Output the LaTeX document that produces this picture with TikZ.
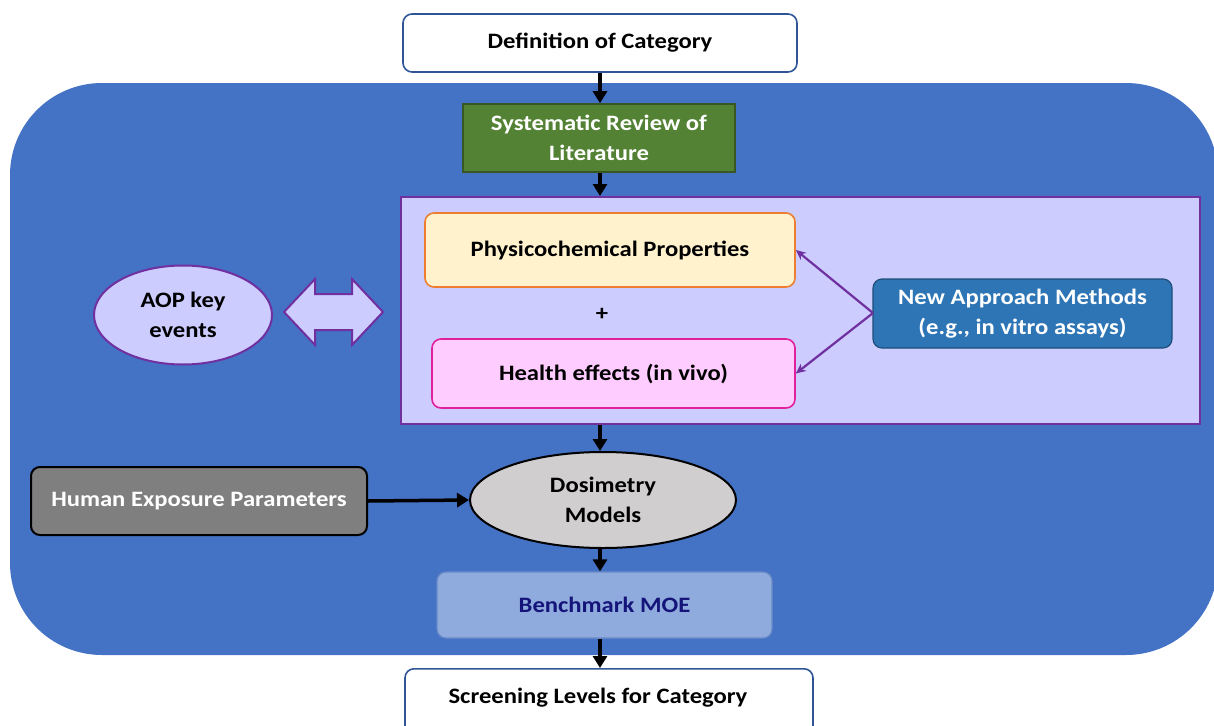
\documentclass[tikz,border=0pt]{standalone}
\usepackage{fontspec}
\setmainfont[FakeStretch=1.12]{Carlito}
\usetikzlibrary{arrows.meta,shapes.geometric}
\definecolor{bigblue}{HTML}{4472C4}
\definecolor{lav}{HTML}{CCCCFF}
\definecolor{purp}{HTML}{7030A0}
\definecolor{grn}{HTML}{548235}
\definecolor{grnd}{HTML}{385723}
\definecolor{boxblue}{HTML}{2F5597}
\definecolor{peach}{HTML}{FFF2CC}
\definecolor{orng}{HTML}{ED7D31}
\definecolor{pinkf}{HTML}{FFCCFF}
\definecolor{mag}{HTML}{E0209C}
\definecolor{nam}{HTML}{2E75B6}
\definecolor{namd}{HTML}{1F4E79}
\definecolor{grayf}{HTML}{7F7F7F}
\definecolor{dosf}{HTML}{D0CECE}
\definecolor{bmf}{HTML}{8FAADC}
\definecolor{bmd}{HTML}{6A8AC8}
\definecolor{navy}{HTML}{14147A}
\tikzset{
  txt/.style={font=\fontsize{22}{29.5}\selectfont\bfseries, align=center},
  box/.style={txt, draw, rounded corners=9pt, line width=1.6pt, inner sep=0pt},
  flow/.style={line width=3.5pt, -{Triangle[length=12pt,width=14pt]}},
  parr/.style={line width=2.2pt, draw=purp, -{Stealth[length=10pt,width=9pt]}},
}
\begin{document}
\begin{tikzpicture}[x=1pt,y=-1pt]
\useasboundingbox (0,0) rectangle (1214,725);
% big blue background
\fill[bigblue, rounded corners=92pt] (10,83) rectangle (1218,655);
% top box
\node[box, draw=boxblue, fill=white, minimum width=394pt, minimum height=58pt] (def) at (600,43) {Definition of Category};
% systematic review
\node[txt, draw=grnd, fill=grn, text=white, line width=1.6pt, minimum width=272pt, minimum height=68pt, inner sep=0pt] (sys) at (599,138) {Systematic Review of\\Literature};
% lavender container
\node[draw=purp, fill=lav, line width=2pt, minimum width=799pt, minimum height=227pt, inner sep=0pt] (cont) at (800.5,310.5) {};
% physchem
\node[box, draw=orng, fill=peach, minimum width=370pt, minimum height=74pt] (phys) at (610,250) {Physicochemical Properties};
\node[txt] (plus) at (602,314) {+};
% health
\node[box, draw=mag, fill=pinkf, minimum width=363pt, minimum height=69pt] (health) at (613.5,373.5) {Health effects (in vivo)};
% NAM
\node[box, draw=namd, fill=nam, text=white, minimum width=299pt, minimum height=69pt, line width=1.2pt] (nam) at (1022.5,313.5) {New Approach Methods\\(e.g., in vitro assays)};
\coordinate (namw) at (873,313);
\draw[parr] (namw) -- (phys.east);
\draw[parr] (namw) -- (health.east);
% AOP
\node[txt, ellipse, draw=purp, fill=lav, line width=2pt, minimum width=178pt, minimum height=99pt, inner sep=0pt] (aop) at (183,315) {AOP key\\events};
% double arrow
\draw[draw=purp, fill=lav, line width=2pt, line join=miter]
  (284,312) -- (315,279) -- (315,294) -- (352,294) -- (352,279) -- (383,312)
  -- (352,345) -- (352,330) -- (315,330) -- (315,345) -- cycle;
% dosimetry
\node[txt, ellipse, draw=black, fill=dosf, line width=2pt, minimum width=266pt, minimum height=96pt, inner sep=0pt] (dos) at (603,500) {Dosimetry\\Models};
% human exposure
\node[box, draw=black, fill=grayf, text=white, minimum width=336pt, minimum height=68pt, line width=2pt] (hum) at (199,501) {Human Exposure Parameters};
% benchmark
\node[box, draw=bmd, fill=bmf, text=navy, minimum width=335pt, minimum height=66pt, line width=1.2pt] (bm) at (604.5,605) {Benchmark MOE};
% screening
\node[box, draw=boxblue, fill=white, minimum width=408pt, minimum height=66pt, anchor=north] (scr) at (609,668) {};
\node[txt] (scrt) at (598,698) {Screening Levels for Category};
% flow arrows
\draw[flow] (def.south -| 600,0) -- (sys.north -| 600,0);
\draw[flow] (sys.south -| 600,0) -- (cont.north -| 600,0);
\draw[flow] (cont.south -| 600,0) -- (dos.north -| 600,0);
\draw[flow] (hum.east) -- (dos.west);
\draw[flow] (dos.south -| 600,0) -- (bm.north -| 600,0);
\draw[flow] (bm.south -| 600,0) -- (scr.north -| 600,0);
\end{tikzpicture}
\end{document}
